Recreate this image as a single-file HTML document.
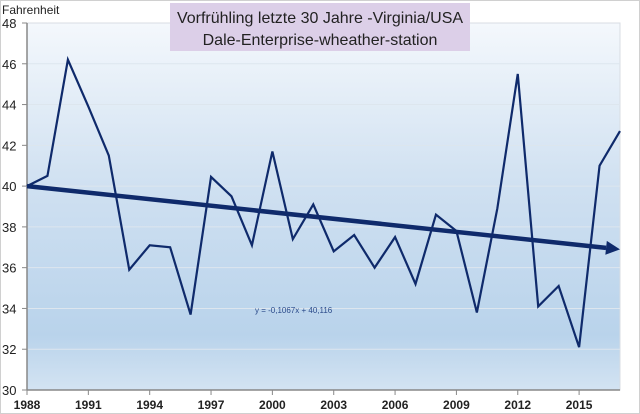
<!DOCTYPE html>
<html><head><meta charset="utf-8"><style>
body{margin:0;background:#fff;}
svg{display:block;font-family:"Liberation Sans",sans-serif;}
</style></head><body>
<svg id="chart" width="640" height="414">
<defs>
<linearGradient id="bg" x1="0" y1="0" x2="0" y2="1">
<stop offset="0" stop-color="#f4f8fc"/><stop offset="0.45" stop-color="#cfe0f1"/><stop offset="0.85" stop-color="#b9d3eb"/><stop offset="1" stop-color="#d3e3f2"/>
</linearGradient>
</defs>
<rect x="0.5" y="0.5" width="639" height="413" fill="#fff" stroke="#d0d0d0"/>
<rect x="27" y="23" width="593" height="367" fill="url(#bg)" stroke="#d8dde3"/>
<g id="grid"></g>
<g id="axes"></g>
<g id="series"></g>
<rect x="170" y="3" width="300" height="48" fill="#dccfe8"/>
<text x="320" y="23" text-anchor="middle" font-size="16" fill="#222">Vorfrühling letzte 30 Jahre -Virginia/USA</text>
<text x="320" y="45" text-anchor="middle" font-size="16" fill="#222">Dale-Enterprise-wheather-station</text>
<text x="2" y="14" font-size="12" fill="#222">Fahrenheit</text>
<text x="255" y="313" font-size="8" fill="#2a4a8a">y = -0,1067x + 40,116</text>
</svg>
<script>
const years=[1988,1989,1990,1991,1992,1993,1994,1995,1996,1997,1998,1999,2000,2001,2002,2003,2004,2005,2006,2007,2008,2009,2010,2011,2012,2013,2014,2015,2016,2017];
const temps=[40.0,40.5,46.2,43.9,41.5,35.9,37.1,37.0,33.7,40.45,39.5,37.1,41.7,37.4,39.1,36.8,37.6,36.0,37.5,35.2,38.6,37.8,33.8,38.9,45.5,34.1,35.1,32.1,41.0,42.7];
const yTicks=[30,32,34,36,38,40,42,44,46,48];
const xTicks=[1988,1991,1994,1997,2000,2003,2006,2009,2012,2015];
const trendStart=40.0, trendEnd=36.9;
const NS="http://www.w3.org/2000/svg";
const X=y=>27+(y-1988)*(593/29);
const Y=v=>390-(v-30)*(367/18);
function mk(t,a,p){const e=document.createElementNS(NS,t);for(const k in a)e.setAttribute(k,a[k]);p.appendChild(e);return e;}
const grid=document.getElementById('grid'),axes=document.getElementById('axes'),ser=document.getElementById('series');
yTicks.forEach(v=>{
 if(v>30&&v<48){const g=mk('line',{x1:27,x2:620,y1:Y(v),y2:Y(v),stroke:'#dde6ee','stroke-width':1},grid);
 
 }
 const t=mk('line',{x1:22,x2:27,y1:Y(v),y2:Y(v),stroke:'#888'},axes);
 
 
 const l=mk('text',{x:2,y:Y(v)+5,'font-size':13,fill:'#222'},axes);l.textContent=v;
 
 
});
const ya=mk('line',{x1:27,x2:27,y1:23,y2:390,stroke:'#888','stroke-width':1.5},axes);


const xa=mk('line',{x1:27,x2:620,y1:390,y2:390,stroke:'#888','stroke-width':1.5},axes);


xTicks.forEach(y=>{
 const t=mk('line',{x1:X(y),x2:X(y),y1:390,y2:395,stroke:'#888'},axes);
 
 
 const l=mk('text',{x:X(y),y:409,'font-size':12,'font-weight':'bold','text-anchor':'middle',fill:'#222'},axes);l.textContent=y;
 
 
});
const line=mk('polyline',{points:years.map((y,i)=>X(y)+','+Y(temps[i])).join(' '),fill:'none',stroke:'#0f2a6b','stroke-width':2.2,'stroke-linejoin':'miter'},ser);


const x0=X(years[0]),x1=X(years[years.length-1]),y0=Y(trendStart),y1=Y(trendEnd);
const ang=Math.atan2(y1-y0,x1-x0),L=14,W=7;
const bx=x1-L*Math.cos(ang),by=y1-L*Math.sin(ang);
const tr=mk('line',{x1:x0,y1:y0,x2:bx,y2:by,stroke:'#0f2a6b','stroke-width':4.5},ser);


const ah=mk('polygon',{points:`${x1},${y1} ${bx-W*Math.sin(ang)},${by+W*Math.cos(ang)} ${bx+W*Math.sin(ang)},${by-W*Math.cos(ang)}`,fill:'#0f2a6b'},ser);


</script>
</body></html>
